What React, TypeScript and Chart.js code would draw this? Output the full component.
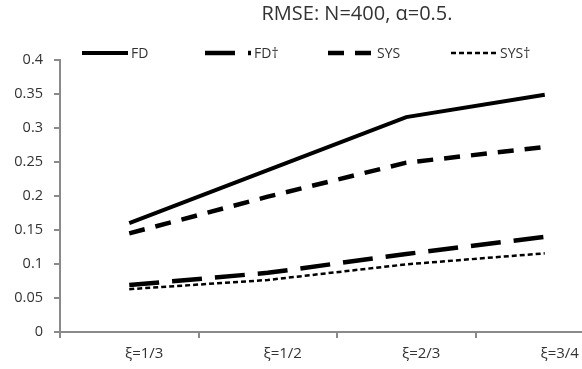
import React, { useEffect, useRef } from "react";
import { Chart, registerables } from "chart.js";

Chart.register(...registerables);

const categories = ["ξ=1/3", "ξ=1/2", "ξ=2/3", "ξ=3/4"];
const fdValues = [0.16, 0.238, 0.316, 0.349];
const fdDaggerValues = [0.069, 0.087, 0.1147, 0.14];
const sysValues = [0.145, 0.199, 0.249, 0.272];
const sysDaggerValues = [0.063, 0.0765, 0.0995, 0.1157];
const yTickLabels = ["0", "0.05", "0.1", "0.15", "0.2", "0.25", "0.3", "0.35", "0.4"];
const titleText = "RMSE: N=400, α=0.5.";

const FONT = "'Open Sans'";
const TEXT_COLOR = "#333333";
const AXIS_COLOR = "#8a8a8a";

const LEGEND_X = 82;
const LEGEND_STEP = 123;
const LEGEND_Y = 53;
const SAMPLE_LEN = 46;

const dashLegend = {
  id: "dashLegend",
  afterDraw(chart: any) {
    const { ctx } = chart;
    ctx.save();
    chart.data.datasets.forEach((ds: any, i: number) => {
      const x0 = LEGEND_X + i * LEGEND_STEP;
      ctx.beginPath();
      ctx.setLineDash(ds.borderDash || []);
      ctx.lineWidth = ds.borderWidth;
      ctx.strokeStyle = ds.borderColor;
      ctx.lineCap = "butt";
      ctx.moveTo(x0, LEGEND_Y);
      ctx.lineTo(x0 + SAMPLE_LEN, LEGEND_Y);
      ctx.stroke();
      ctx.setLineDash([]);
      ctx.fillStyle = TEXT_COLOR;
      ctx.font = `14px ${FONT}`;
      ctx.textBaseline = "middle";
      ctx.textAlign = "left";
      ctx.fillText(ds.label, x0 + SAMPLE_LEN + 3, LEGEND_Y + 1);
    });
    ctx.restore();
  },
};

export default function App() {
  const ref = useRef<HTMLCanvasElement | null>(null);

  useEffect(() => {
    document.documentElement.style.overflow = "hidden";
    document.body.style.overflow = "hidden";
    if (!ref.current) return;
    const chart = new Chart(ref.current, {
      type: "line",
      data: {
        labels: categories,
        datasets: [
          { label: "FD", data: fdValues, borderColor: "#000", borderWidth: 4, borderDash: [], pointRadius: 0, tension: 0 },
          { label: "FD†", data: fdDaggerValues, borderColor: "#000", borderWidth: 4.5, borderDash: [30, 13], pointRadius: 0, tension: 0 },
          { label: "SYS", data: sysValues, borderColor: "#000", borderWidth: 4.5, borderDash: [16, 11], pointRadius: 0, tension: 0 },
          { label: "SYS†", data: sysDaggerValues, borderColor: "#000", borderWidth: 2.5, borderDash: [5, 3], pointRadius: 0, tension: 0 },
        ],
      },
      options: {
        animation: false,
        responsive: false,
        devicePixelRatio: 1,
        layout: { padding: 0 },
        plugins: {
          legend: { display: false },
          tooltip: { enabled: false },
          title: {
            display: true,
            text: titleText,
            color: TEXT_COLOR,
            font: { family: FONT, size: 20, weight: "normal" },
            padding: { top: 2, bottom: 34 },
          },
        },
        scales: {
          x: {
            type: "category",
            offset: true,
            grid: { display: true, offset: true, drawOnChartArea: false, drawTicks: true, tickLength: 6, color: AXIS_COLOR, lineWidth: 2 },
            border: { display: true, color: AXIS_COLOR, width: 2 },
            ticks: { color: TEXT_COLOR, font: { family: FONT, size: 15 }, labelOffset: 15, padding: 7, maxRotation: 0, autoSkip: false },
            afterFit(scale: any) { scale.height = 37; },
          },
          y: {
            type: "linear",
            min: 0,
            max: 0.4,
            ticks: {
              stepSize: 0.05,
              color: TEXT_COLOR,
              font: { family: FONT, size: 14.5 },
              padding: 11,
              callback: (_v: any, i: number) => yTickLabels[i],
            },
            grid: { display: true, drawOnChartArea: false, drawTicks: true, tickLength: 6, color: AXIS_COLOR, lineWidth: 2 },
            border: { display: true, color: AXIS_COLOR, width: 2 },
            afterFit(scale: any) { scale.width = 60; },
          },
          yR: {
            type: "linear",
            position: "right",
            display: true,
            grid: { display: false },
            border: { display: false },
            ticks: { display: false },
            afterFit(scale: any) { scale.width = 100; },
          },
        },
      },
      plugins: [dashLegend],
    });
    return () => chart.destroy();
  }, []);

  return (
    <div style={{ position: "absolute", left: 0, top: 0, width: 582, height: 369, overflow: "hidden", background: "#fff" }}>
      <canvas ref={ref} width={714} height={369} style={{ width: 714, height: 369, display: "block" }} />
    </div>
  );
}
